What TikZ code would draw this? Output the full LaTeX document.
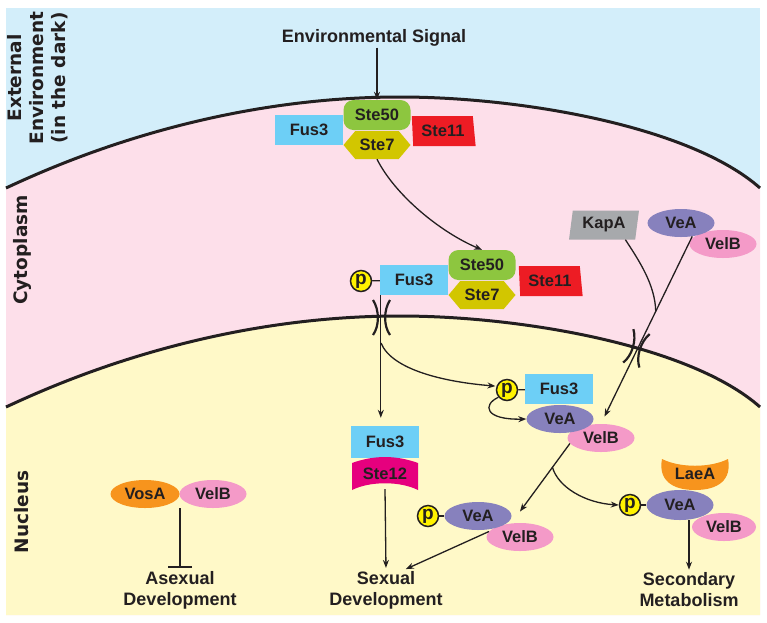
\documentclass[tikz,border=0pt]{standalone}
\usepackage{fontspec}
\setmainfont{Liberation Sans}
\newfontfamily\sidefont{DejaVu Sans}
\usetikzlibrary{shapes.geometric,shapes.symbols,arrows.meta,calc}

\definecolor{skybg}{HTML}{D3EEFA}
\definecolor{cytobg}{HTML}{FDDFEA}
\definecolor{nucbg}{HTML}{FFF9C8}
\definecolor{fuscol}{HTML}{6DCFF6}
\definecolor{ste50col}{HTML}{8DC63F}
\definecolor{ste7col}{HTML}{D2C600}
\definecolor{ste11col}{HTML}{ED1C24}
\definecolor{ste12col}{HTML}{E6007E}
\definecolor{kapacol}{HTML}{A7A9AC}
\definecolor{veacol}{HTML}{8781BD}
\definecolor{velbcol}{HTML}{F49AC8}
\definecolor{orangecol}{HTML}{F7941D}
\definecolor{pcol}{HTML}{FFF200}
\definecolor{inkcol}{HTML}{231F20}

\tikzset{
  prot/.style={font=\bfseries\fontsize{16.5}{16.5}\selectfont, text=inkcol, inner sep=0pt},
  fus/.style={prot, fill=fuscol, minimum width=68pt, minimum height=30pt},
  ste50/.style={prot, fill=ste50col, rounded corners=10pt, minimum width=67pt, minimum height=30pt},
  ste7/.style={prot, fill=ste7col, signal, signal to=east and west, signal pointer angle=100, minimum width=67pt, minimum height=28pt},
  ste11/.style={prot, fill=ste11col, trapezium, trapezium left angle=95, trapezium right angle=80, trapezium stretches=true, minimum width=64pt, minimum height=30pt},
  kapa/.style={prot, fill=kapacol, trapezium, trapezium left angle=80, trapezium right angle=100, trapezium stretches=true, minimum width=70pt, minimum height=29pt},
  ell/.style={prot, ellipse, minimum width=67pt, minimum height=28pt},
  vea/.style={ell, fill=veacol},
  velb/.style={ell, fill=velbcol},
  vosa/.style={ell, fill=orangecol, minimum width=69pt},
  pcirc/.style={circle, draw=inkcol, line width=1.5pt, fill=pcol, minimum size=21pt, inner sep=0pt, text=inkcol, font=\bfseries\fontsize{19}{19}\selectfont},
  link/.style={line width=1.3pt, draw=inkcol},
  arr/.style={link, -{Stealth[length=8pt,width=6pt]}},
  inh/.style={link, -{Bar[width=24pt,line width=2pt]}},
  membr/.style={line width=3pt, draw=inkcol},
  pore/.style={line width=2.2pt, draw=inkcol},
  lbl/.style={font=\bfseries\fontsize{18}{21}\selectfont, text=inkcol, align=center, inner sep=1pt},
  side/.style={font=\sidefont\bfseries\fontsize{18.5}{22}\selectfont, text=inkcol, rotate=90, align=center, inner sep=0pt}
}

\begin{document}
\begin{tikzpicture}[x=1pt,y=-1pt]
\useasboundingbox (0,0) rectangle (767,622);
\fill[skybg] (6,8) rectangle (760,615);
\fill[cytobg] (6,188) parabola[bend at end] (400,97) .. controls (520,97) and (690,126) .. (760,188) -- (760,615) -- (6,615) -- cycle;
\fill[nucbg] (6,407) parabola[bend at end] (400,316) .. controls (520,316) and (690,345) .. (760,407) -- (760,615) -- (6,615) -- cycle;
\draw[membr] (6,188) parabola[bend at end] (400,97) .. controls (520,97) and (690,126) .. (760,188);
\draw[membr] (6,407) parabola[bend at end] (400,316) .. controls (520,316) and (690,345) .. (760,407);

\draw[pore] (373,300) .. controls (379.5,310) and (379.5,326) .. (373,335);
\draw[pore] (390,300) .. controls (383.5,310) and (383.5,326) .. (390,335);
\begin{scope}[shift={(637,348)},rotate=-17]
\draw[pore] (-9,-17) .. controls (-2.5,-7) and (-2.5,9) .. (-9,18);
\draw[pore] (8,-17) .. controls (1.5,-7) and (1.5,9) .. (8,18);
\end{scope}

\node[side] (extlbl) at (38,78) {External\\Environment\\(in the dark)};
\node[side] (cytolbl) at (22,250) {Cytoplasm};
\node[side] (nuclbl) at (22,512) {Nucleus};

\node[lbl] (env) at (374,38) {Environmental Signal};
\node[fus] (fusm) at (309,130) {Fus3};
\node[ste50] (ste50m) at (377,115) {Ste50};
\node[ste7] (ste7m) at (377,145) {Ste7};
\node[ste11] (ste11m) at (443,131) {Ste11};

\node[fus] (fusc) at (414,280) {Fus3};
\node[pcirc] (pc) at (361,281) {p};
\node[ste50] (ste50c) at (482,265) {Ste50};
\node[ste7] (ste7c) at (482,295) {Ste7};
\node[ste11] (ste11c) at (550,281) {Ste11};

\node[kapa] (kapa) at (604,225) {KapA};
\node[velb] (velbk) at (723,244) {VelB};
\node[vea] (veak) at (681,223) {VeA};

\node[velb] (velb1) at (601,438) {VelB};
\node[vea] (vea1) at (560,419) {VeA};
\node[fus] (fusn1) at (559,389) {Fus3};
\node[pcirc] (pn1) at (507,390) {p};

\node[fus, minimum height=32pt] (fusn) at (385,442) {Fus3};
\fill[ste12col] (352,463) .. controls (374,455) and (396,455) .. (418,463) -- (418,490) .. controls (400,481) and (370,481) .. (352,490) -- cycle;
\node[prot, minimum width=66pt, minimum height=30pt] (ste12) at (385,474) {Ste12};

\node[velb] (velbv) at (213,494) {VelB};
\node[vosa] (vosa) at (145,494) {VosA};

\node[velb] (velb2) at (520,537) {VelB};
\node[vea] (vea2) at (478,516) {VeA};
\node[pcirc] (pn2) at (428,516) {p};

\fill[orangecol] (662,459) .. controls (680,468) and (710,468) .. (728,459) .. controls (732,480) and (718,490) .. (695,490) .. controls (672,490) and (658,480) .. (662,459) -- cycle;
\node[prot] (laea) at (695,474) {LaeA};
\node[velb, minimum width=64pt] (velb3) at (724,527) {VelB};
\node[vea, minimum height=30pt] (vea3) at (680,505) {VeA};
\node[pcirc] (pn3) at (630,505) {p};

\node[lbl] (asex) at (180,590) {Asexual\\Development};
\node[lbl] (sexdev) at (386,590) {Sexual\\Development};
\node[lbl] (secmet) at (689,590) {Secondary\\Metabolism};

\draw[arr] (ste50m.north |- env.south) -- (ste50m.north);
\draw[arr] (ste7m.south) .. controls (395,195) and (440,232) .. (ste50c.north);
\draw[link] (pc) -- (fusc);
\draw[arr, shorten >=8pt] ([xshift=1pt]fusc.south west) -- ([xshift=1pt]fusc.south west |- fusn.north);
\coordinate (br) at (381,343);
\draw[arr, shorten >=1pt] (br) .. controls (392,370) and (445,382) .. (pn1.160);
\draw[link] (pn1) -- (fusn1);
\draw[arr] (pn1.220) .. controls (482,405) and (485,420) .. (vea1.west);
\draw[arr, shorten >=8pt] (veak.-50) -- (velb1.north);
\coordinate (kmerge) at ($(veak.-50)!0.4!(velb1.north)$);
\draw[link] ([xshift=-10pt]kapa.bottom right corner) .. controls (640,262) and (655,285) .. (kmerge);
\draw[arr, shorten >=14pt] (velb1.190) -- (vea2.east |- velb2.north);
\coordinate (split) at ($(velb1.190)!0.3!(vea2.east |- velb2.north)$);
\draw[arr] (split) .. controls (558,487) and (585,503) .. (pn3.west);
\draw[link] (pn2) -- (vea2);
\draw[link] (pn3) -- (vea3);
\draw[arr, shorten >=2pt] (velb2.170) -- ([xshift=18pt]sexdev.north);
\draw[arr, shorten >=2pt] (ste12.south) -- (sexdev.north);
\draw[inh, shorten >=2pt] (asex.north |- vosa.south) -- (asex.north);
\draw[arr, shorten >=2pt] (secmet.north |- vea3.south) -- (secmet.north);
\end{tikzpicture}
\end{document}
